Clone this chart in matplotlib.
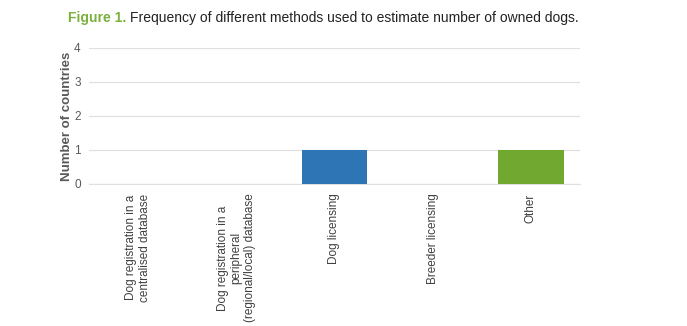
import matplotlib.pyplot as plt
import numpy as np

plt.rcParams["font.family"] = ["Liberation Sans", "DejaVu Sans"]

methods = [
    "Dog registration in a\ncentralised database",
    "Dog registration in a\nperipheral\n(regional/local) database",
    "Dog licensing",
    "Breeder licensing",
    "Other",
]
countries = [0, 0, 1, 0, 1]
bar_colors = ["#2e75b6", "#2e75b6", "#2e75b6", "#2e75b6", "#70a830"]

fig = plt.figure(figsize=(6.87, 3.26), dpi=100)
ax = fig.add_axes([89 / 687, 1 - 184 / 326, 491 / 687, 136 / 326])

x = np.arange(len(methods))
ax.bar(x, countries, width=0.67, color=bar_colors, zorder=3)

ax.set_xlim(-0.5, len(methods) - 0.5)
ax.set_ylim(0, 4)
ax.set_yticks([0, 1, 2, 3, 4])
ax.grid(axis="y", color="#e0e0e0", linewidth=0.9, zorder=0)
for side in ["top", "right", "left"]:
    ax.spines[side].set_visible(False)
ax.spines["bottom"].set_color("#e0e0e0")
ax.tick_params(axis="both", length=0, colors="#595959", labelsize=8.5)
ax.tick_params(axis="y", pad=6)

ax.set_xticks(x)
ax.set_xticklabels(methods, rotation=90, ha="center", va="top",
                   multialignment="center", color="#404040", linespacing=1.15)
ax.tick_params(axis="x", pad=7)

ax.set_ylabel("Number of countries", fontsize=9.5, fontweight="bold",
              color="#595959", labelpad=1)

# caption: green "Figure 1." followed by the plain title text
fig_no = fig.text(68 / 687, 1 - 18 / 326, "Figure 1.", color="#7ab03c",
                  fontsize=10, fontweight="bold", va="center")
ax.annotate("Frequency of different methods used to estimate number of owned dogs.",
            xy=(1, 0.5), xycoords=fig_no, xytext=(2.5, 0), textcoords="offset points",
            color="#222222", fontsize=10, va="center", annotation_clip=False)

fig.savefig("out.png", dpi=100)
